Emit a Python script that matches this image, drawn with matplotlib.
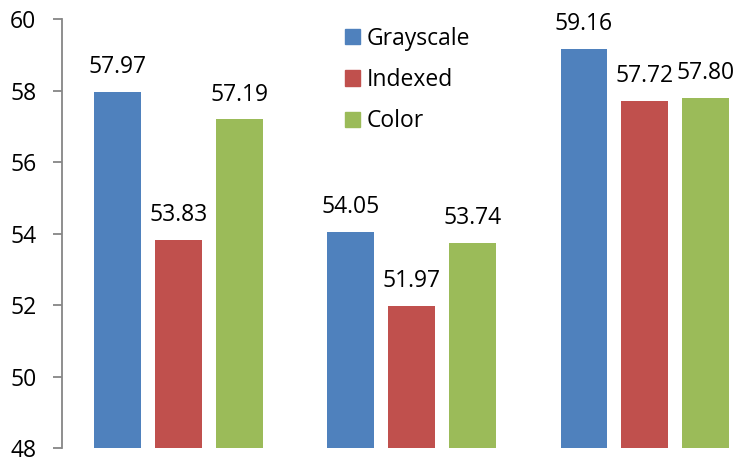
import numpy as np
import matplotlib.pyplot as plt
from matplotlib.patches import Patch

plt.rcParams['font.family'] = ['Open Sans', 'DejaVu Sans']

# accuracy per group and mode
series = ["Grayscale", "Indexed", "Color"]
grayscale = [57.97, 54.05, 59.16]
indexed = [53.83, 51.97, 57.72]
color = [57.19, 53.74, 57.80]
colors = ["#4F81BD", "#C0504D", "#9BBB59"]

fig = plt.figure(figsize=(7.33, 4.61), dpi=100)
ax = fig.add_axes([62/733, 1-448/461, 1-62/733, (448-19)/461])

x = np.arange(3)
w = 0.2013
step = 0.2612
for i, (vals, c) in enumerate(zip([grayscale, indexed, color], colors)):
    bars = ax.bar(x + (i-1)*step, vals, width=w, color=c)
    for b, v in zip(bars, vals):
        ax.annotate(f"{v:.2f}", (b.get_x()+b.get_width()/2, v),
                    xytext=(0, 13.5), textcoords="offset points",
                    ha="center", va="baseline", fontsize=16.5)

ax.set_ylim(48, 60)
ax.set_yticks(np.arange(48, 61, 2))
ax.set_xlim(-0.5, 2.378)
ax.set_xticks([])
for s in ["top", "right", "bottom"]:
    ax.spines[s].set_visible(False)
ax.spines["left"].set_color("#868686")
ax.spines["left"].set_linewidth(1.3)
ax.tick_params(axis="y", length=6.5, width=1.3, color="#868686", labelsize=16.5, pad=12)

handles = [Patch(color=c) for c in colors]
fig.legend(handles, series, loc="upper left", bbox_to_anchor=(324/733, 1-6/461),
           frameon=False, fontsize=16.5, handlelength=0.65, handleheight=0.65,
           handletextpad=0.3, labelspacing=0.76)

fig.savefig("out.png", dpi=100)
